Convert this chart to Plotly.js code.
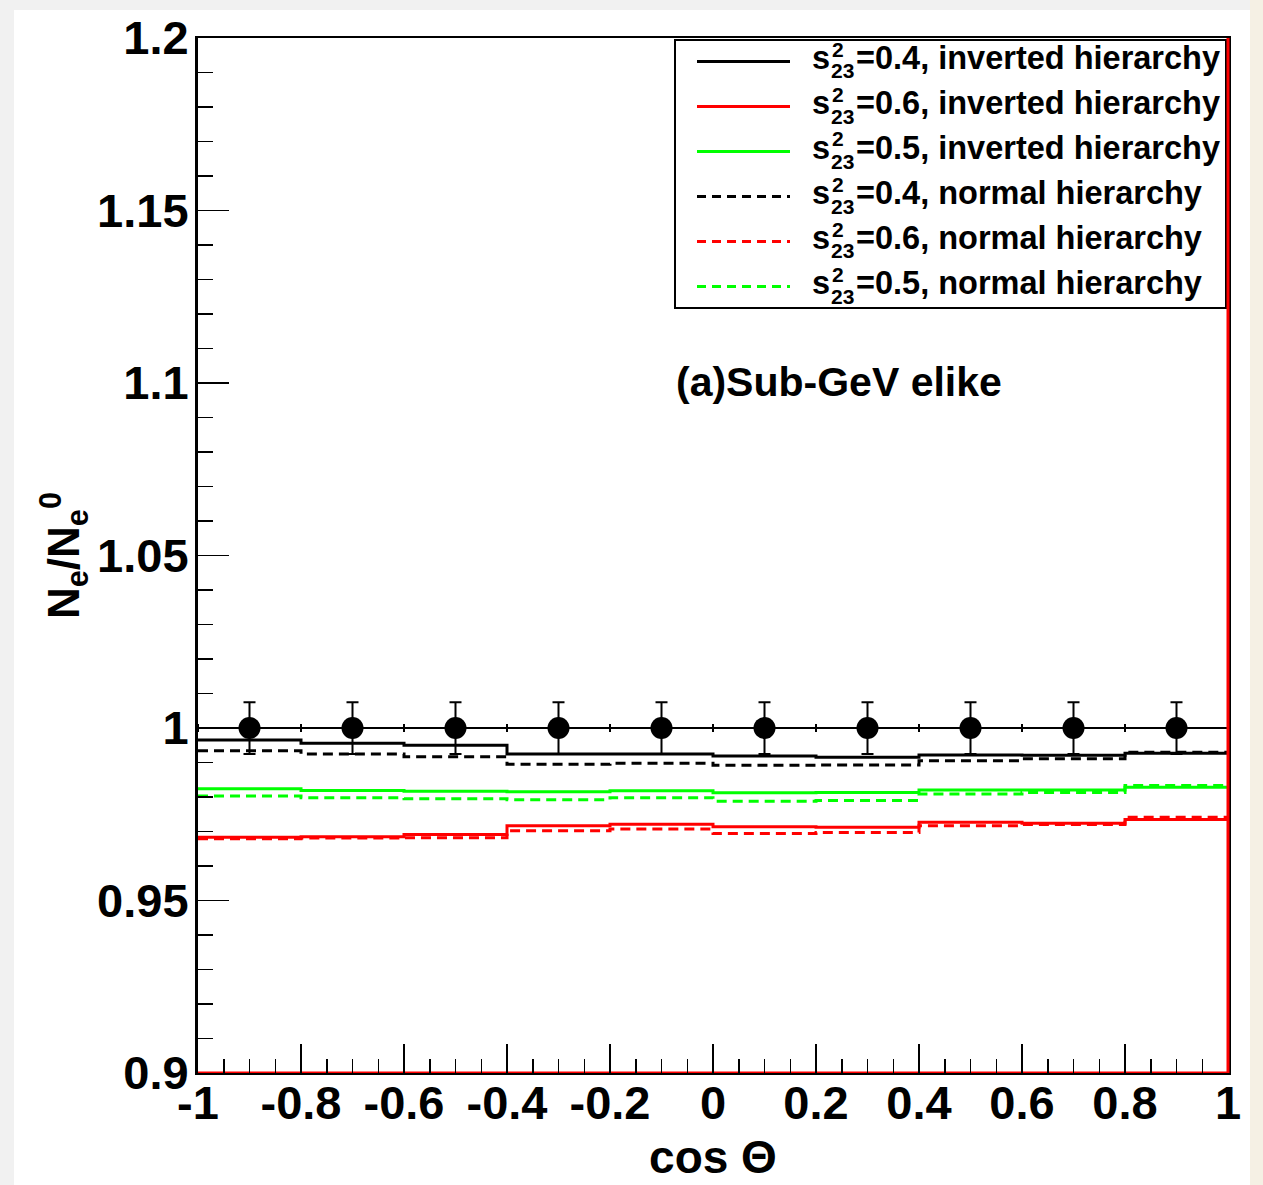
<!DOCTYPE html>
<html>
<head>
<meta charset="utf-8">
<script src="https://cdn.plot.ly/plotly-3.0.1.min.js"></script>
<style>
html,body{margin:0;padding:0;background:#f1f1f1;width:1263px;height:1185px;overflow:hidden;}
#sheet{position:absolute;left:14px;top:10px;width:1236px;height:1175px;background:#ffffff;}
#edge{position:absolute;left:1250px;top:0;width:13px;height:1185px;background:#f5f0e4;}
#plot{position:absolute;left:0;top:0;width:1263px;height:1185px;}
</style>
</head>
<body>
<div id="sheet"></div>
<div id="edge"></div>
<div id="plot"></div>
<script>
// ---- data ----
const binEdges   = [-1, -0.8, -0.6, -0.4, -0.2, 0, 0.2, 0.4, 0.6, 0.8, 1];
const binCenters = [-0.9, -0.7, -0.5, -0.3, -0.1, 0.1, 0.3, 0.5, 0.7, 0.9];

const ihS04 = [0.9965, 0.9956, 0.9950, 0.9925, 0.9925, 0.9919, 0.9915, 0.9922, 0.9921, 0.9927];
const ihS06 = [0.9683, 0.9685, 0.9691, 0.9717, 0.9721, 0.9714, 0.9712, 0.9727, 0.9724, 0.9735];
const ihS05 = [0.9824, 0.9819, 0.9817, 0.9815, 0.9818, 0.9812, 0.9813, 0.9820, 0.9820, 0.9828];
const nhS04 = [0.9934, 0.9925, 0.9917, 0.9895, 0.9898, 0.9892, 0.9893, 0.9905, 0.9911, 0.9930];
const nhS06 = [0.9679, 0.9681, 0.9682, 0.9702, 0.9707, 0.9694, 0.9697, 0.9717, 0.9720, 0.9741];
const nhS05 = [0.9803, 0.9798, 0.9795, 0.9792, 0.9798, 0.9788, 0.9790, 0.9809, 0.9813, 0.9833];

const dataY   = [1, 1, 1, 1, 1, 1, 1, 1, 1, 1];
const dataErr = [0.0075, 0.0075, 0.0075, 0.0075, 0.0075, 0.0075, 0.0075, 0.0075, 0.0075, 0.0075];
const binHalfWidth = [0.1, 0.1, 0.1, 0.1, 0.1, 0.1, 0.1, 0.1, 0.1, 0.1];

const xTickVals   = [-1, -0.8, -0.6, -0.4, -0.2, 0, 0.2, 0.4, 0.6, 0.8, 1];
const xTickLabels = ["-1", "-0.8", "-0.6", "-0.4", "-0.2", "0", "0.2", "0.4", "0.6", "0.8", "1"];
const yTickVals   = [0.9, 0.95, 1, 1.05, 1.1, 1.15, 1.2];
const yTickLabels = ["0.9", "0.95", "1", "1.05", "1.1", "1.15", "1.2"];

const legendValues = ["=0.4, inverted hierarchy", "=0.6, inverted hierarchy", "=0.5, inverted hierarchy",
                      "=0.4, normal hierarchy", "=0.6, normal hierarchy", "=0.5, normal hierarchy"];
const panelLabel = "(a)Sub-GeV elike";

// ---- styling ----
const FONT = "Liberation Sans, Arial, Helvetica, sans-serif";
const W = 1263, H = 1185, mL = 198, mR = 35, mT = 38, mB = 112;
const pw = W - mL - mR, ph = H - mT - mB;
const px2x = p => (p - mL) / pw;
const py2y = p => (H - mB - p) / ph;

const series = [
  {y: ihS04, color: "#000000", dash: "solid"},
  {y: ihS06, color: "#ff0000", dash: "solid"},
  {y: ihS05, color: "#00ff00", dash: "solid"},
  {y: nhS04, color: "#000000", dash: "10px,6px"},
  {y: nhS06, color: "#ff0000", dash: "10px,6px"},
  {y: nhS05, color: "#00ff00", dash: "10px,6px"}
];

const traces = series.map(s => ({
  type: "scatter", mode: "lines",
  x: binEdges, y: s.y.concat([s.y[s.y.length - 1]]),
  line: {shape: "hv", color: s.color, width: 3, dash: s.dash},
  hoverinfo: "skip", showlegend: false
}));

traces.push({
  type: "scatter", mode: "markers",
  x: binCenters, y: dataY,
  marker: {symbol: "circle", size: 22, color: "#000000"},
  error_y: {type: "data", array: dataErr, visible: true, color: "#000000", thickness: 2, width: 6},
  error_x: {type: "data", array: binHalfWidth, visible: true, color: "#000000", thickness: 2, width: 4},
  showlegend: false
});

const shapes = [
  {type: "line", xref: "paper", yref: "paper", x0: 0, x1: 1, y0: 0, y1: 0, line: {color: "#ff0000", width: 3}, layer: "below"},
  {type: "rect", xref: "paper", yref: "paper", x0: px2x(675), x1: px2x(1226), y0: py2y(308), y1: py2y(40),
   line: {color: "#000000", width: 2}, fillcolor: "#ffffff"},
  {type: "line", xref: "paper", yref: "paper", x0: 1, x1: 1, y0: 0, y1: 1, line: {color: "#ff0000", width: 3}}
];

const annotations = [];
series.forEach((s, i) => {
  const ly = 61.5 + 45 * i;
  const ty = 58 + 45 * i;
  shapes.push({type: "line", xref: "paper", yref: "paper", x0: px2x(697), x1: px2x(790), y0: py2y(ly), y1: py2y(ly),
               line: {color: s.color, width: 3, dash: s.dash === "solid" ? "solid" : "9px,6px"}});
  const f = sz => ({family: FONT, size: sz, color: "#000000", weight: "bold"});
  annotations.push({xref: "paper", yref: "paper", x: px2x(811), y: py2y(ty), xanchor: "left", yanchor: "middle",
                    text: "s", showarrow: false, borderpad: 0, font: f(32.5)});
  annotations.push({xref: "paper", yref: "paper", x: px2x(831), y: py2y(ty - 9), xanchor: "left", yanchor: "middle",
                    text: "2", showarrow: false, borderpad: 0, font: f(21)});
  annotations.push({xref: "paper", yref: "paper", x: px2x(830), y: py2y(ty + 13), xanchor: "left", yanchor: "middle",
                    text: "23", showarrow: false, borderpad: 0, font: f(21)});
  annotations.push({xref: "paper", yref: "paper", x: px2x(855), y: py2y(ty), xanchor: "left", yanchor: "middle",
                    text: legendValues[i], showarrow: false, borderpad: 0, font: f(32.5)});
});
annotations.push({xref: "paper", yref: "paper", x: px2x(675), y: py2y(382), xanchor: "left", yanchor: "middle",
                  text: panelLabel, showarrow: false, borderpad: 0,
                  font: {family: FONT, size: 41, color: "#000000", weight: "bold"}});

const tickFont = {family: FONT, size: 47, color: "#000000", weight: "bold"};

const layout = {
  width: W, height: H,
  margin: {l: mL, r: mR, t: mT, b: mB, pad: 0},
  paper_bgcolor: "rgba(0,0,0,0)",
  plot_bgcolor: "#ffffff",
  showlegend: false,
  xaxis: {
    range: [-1, 1], tickmode: "array", tickvals: xTickVals, ticktext: xTickLabels,
    ticks: "inside", ticklen: 29, tickwidth: 1.5, tickcolor: "#000000", ticklabelstandoff: -12,
    minor: {dtick: 0.05, tick0: -1, ticks: "inside", ticklen: 14, tickwidth: 1.5, tickcolor: "#000000", showgrid: false},
    showgrid: false, zeroline: false, showline: true, linecolor: "#000000", linewidth: 2, mirror: true,
    tickfont: tickFont, automargin: false,
    title: {text: "cos Θ", font: {family: FONT, size: 46, color: "#000000", weight: "bold"}, standoff: 12}
  },
  yaxis: {
    range: [0.9, 1.2], tickmode: "array", tickvals: yTickVals, ticktext: yTickLabels,
    ticks: "inside", ticklen: 31, tickwidth: 1.5, tickcolor: "#000000", ticklabelstandoff: -3,
    minor: {dtick: 0.01, tick0: 0.9, ticks: "inside", ticklen: 15, tickwidth: 1.5, tickcolor: "#000000", showgrid: false},
    showgrid: false, zeroline: false, showline: true, linecolor: "#000000", linewidth: 3, mirror: true,
    tickfont: tickFont, automargin: false,
    title: {text: "N<sub>e</sub>/N<sub>e</sub><sup>0</sup>", font: {family: FONT, size: 44, color: "#000000", weight: "bold"}, standoff: 4}
  },
  shapes: shapes,
  annotations: annotations
};

Plotly.newPlot("plot", traces, layout, {displayModeBar: false, staticPlot: true});
</script>
</body>
</html>
